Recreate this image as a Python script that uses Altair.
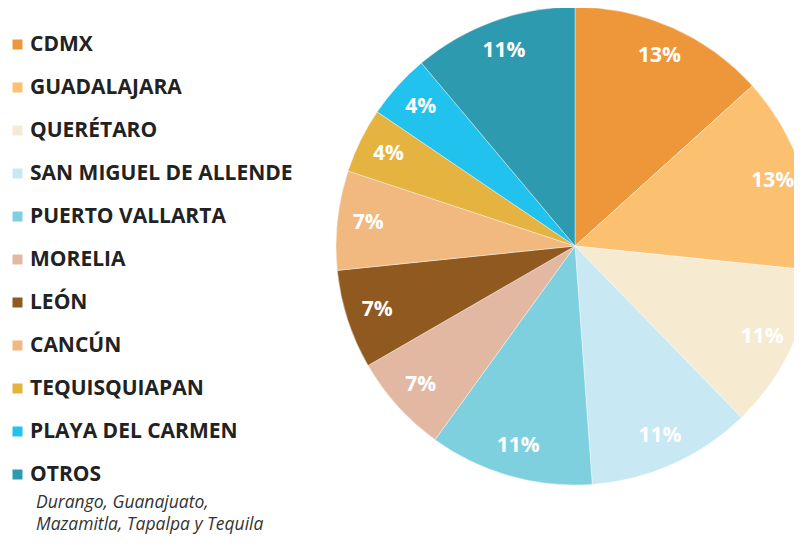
import altair as alt
import pandas as pd

categories = ["CDMX", "GUADALAJARA", "QUERÉTARO", "SAN MIGUEL DE ALLENDE",
              "PUERTO VALLARTA", "MORELIA", "LEÓN", "CANCÚN",
              "TEQUISQUIAPAN", "PLAYA DEL CARMEN", "OTROS"]
shares = [13.3, 13.3, 11.1, 11.1, 11.1, 6.7, 6.7, 6.7, 4.4, 4.4, 11.1]
labels = ["13%", "13%", "11%", "11%", "11%", "7%", "7%", "7%", "4%", "4%", "11%"]
colors = ["#EE973A", "#FBC171", "#F6EBD0", "#C8E8F3", "#7FD0DE", "#E2B8A2",
          "#8F5920", "#F1B87F", "#E5B33F", "#22C2EE", "#2E9AB0"]
note_lines = ["Durango, Guanajuato,", "Mazamitla, Tapalpa y Tequila"]

df = pd.DataFrame({"cat": categories, "share": shares, "label": labels,
                   "idx": list(range(len(categories)))})
notes = pd.DataFrame({"line": note_lines, "row": [0, 1]})

CX, CY, R = 567, 238, 239

base = alt.Chart(df).encode(
    theta=alt.Theta("share:Q", stack=True),
    order=alt.Order("idx:Q"),
    x=alt.value(CX), y=alt.value(CY),
)

pie = base.mark_arc(radius=R, clip=True, stroke="white", strokeWidth=0.4).encode(
    color=alt.Color(
        "cat:N",
        scale=alt.Scale(domain=categories, range=colors),
        sort=categories,
        legend=alt.Legend(
            title=None, orient="none", legendX=-1, legendY=26, padding=0,
            symbolType="square", symbolSize=100, symbolStrokeWidth=0,
            labelFont="Open Sans", labelFontSize=21, labelFontWeight="bold",
            labelColor="#222222", labelOffset=2, rowPadding=21,
            labelLimit=400,
        ),
    )
)

txt = base.mark_text(radius=208, font="Open Sans", fontSize=21,
                     fontWeight="bold", color="white").encode(text="label:N")

note = alt.Chart(notes).mark_text(
    font="Open Sans", fontSize=17.5, fontStyle="italic", color="#333333",
    align="left", baseline="alphabetic",
).encode(
    x=alt.value(28),
    y=alt.Y("row:Q", axis=None, scale=alt.Scale(domain=[0, 1], range=[500, 522])),
    text="line:N",
)

chart = alt.layer(pie, txt, note).resolve_scale(y="independent").properties(
    width=786, height=528, padding=0,
    autosize=alt.AutoSizeParams(type="none"),
).configure_view(stroke=None)

chart.save("out.html", embed_options={"renderer": "svg", "actions": False})
